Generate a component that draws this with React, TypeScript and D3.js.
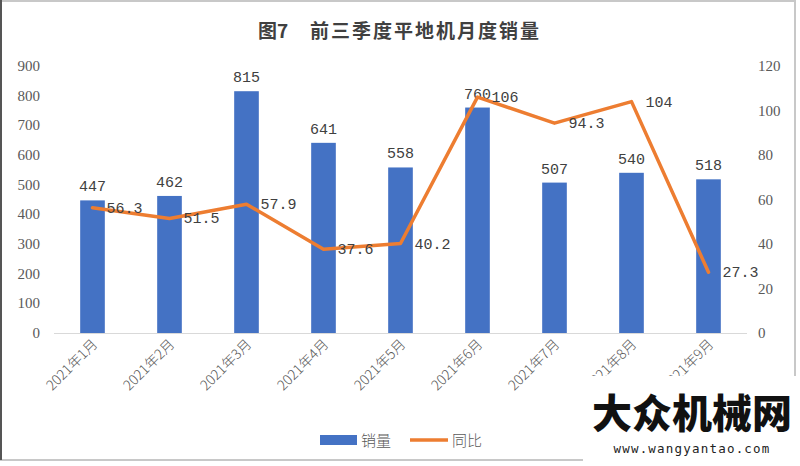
import React from "react";
import * as d3 from "d3";

const categories = ["2021年1月", "2021年2月", "2021年3月", "2021年4月", "2021年5月", "2021年6月", "2021年7月", "2021年8月", "2021年9月"];
const sales = [447, 462, 815, 641, 558, 760, 507, 540, 518];
const yoy = [56.3, 51.5, 57.9, 37.6, 40.2, 106, 94.3, 104, 27.3];
const leftTicks = [0, 100, 200, 300, 400, 500, 600, 700, 800, 900];
const rightTicks = [0, 20, 40, 60, 80, 100, 120];
const titleParts = ["图7", "前三季度平地机月度销量"];
const legendNames = ["销量", "同比"];

const W = 800, H = 466;
const BLUE = "#4472C4", ORANGE = "#ED7D31";
const serif = "'Liberation Serif', 'DejaVu Serif', serif";
const mono = "'Liberation Mono', 'DejaVu Sans Mono', monospace";
const cjk = "'Noto Sans CJK SC', sans-serif";

export default function App() {
  const x = d3.scaleBand<string>().domain(categories).range([54, 747]).paddingInner(0.68).paddingOuter(0.34);
  const yL = d3.scaleLinear().domain([0, 900]).range([333, 66]);
  const yR = d3.scaleLinear().domain([0, 120]).range([333, 66]);
  const cx = (c: string) => (x(c) as number) + x.bandwidth() / 2;
  const line = d3.line<number>().x((_, i) => cx(categories[i])).y((d) => yR(d));

  return (
    <svg width={W} height={H} style={{ position: "absolute", left: 0, top: 0, background: "#fff" }}>
      <rect x={0} y={0} width={W} height={H} fill="#fff" />
      <rect x={1} y={1} width={794} height={459} fill="none" stroke="#c8c8c8" strokeWidth={2} />
      <line x1={1} y1={0} x2={1} y2={460} stroke="#555" strokeWidth={2} />
      <text x={258} y={38} fontFamily={cjk} fontWeight={700} fontSize={19} fill="#404040">{titleParts[0]}</text>
      <text x={310} y={38} fontFamily={cjk} fontWeight={700} fontSize={19} fill="#404040" letterSpacing={2}>{titleParts[1]}</text>

      {leftTicks.map((t) => (
        <text key={"l" + t} x={40} y={yL(t) + 5} textAnchor="end" fontFamily={serif} fontSize={15} fill="#595959">{t}</text>
      ))}
      {rightTicks.map((t) => (
        <text key={"r" + t} x={758} y={yR(t) + 5} textAnchor="start" fontFamily={serif} fontSize={15} fill="#595959">{t}</text>
      ))}

      {categories.map((c, i) => (
        <rect key={c} x={x(c)} y={yL(sales[i])} width={x.bandwidth()} height={yL(0) - yL(sales[i])} fill={BLUE} />
      ))}
      <line x1={54} x2={747} y1={333.5} y2={333.5} stroke="#d9d9d9" strokeWidth={1} />

      {categories.map((c, i) => (
        <text key={"v" + c} x={cx(c)} y={yL(sales[i]) - 9} textAnchor="middle" fontFamily={mono} fontSize={15} fill="#404040">{sales[i]}</text>
      ))}

      <path d={line(yoy) || ""} fill="none" stroke={ORANGE} strokeWidth={3.5} strokeLinejoin="round" strokeLinecap="round" />
      {categories.map((c, i) => (
        <text key={"p" + c} x={cx(c) + 14} y={yR(yoy[i]) + 5} textAnchor="start" fontFamily={mono} fontSize={15} fill="#404040">{yoy[i]}</text>
      ))}

      {categories.map((c) => (
        <text key={"x" + c} transform={`translate(${cx(c) + 6},${345}) rotate(-45)`} textAnchor="end" fontFamily={cjk} fontWeight={300} fontSize={14} fill="#595959">{c}</text>
      ))}

      <rect x={320} y={435} width={37} height={10} fill={BLUE} />
      <text x={361} y={446} fontFamily={cjk} fontWeight={300} fontSize={15} fill="#595959">{legendNames[0]}</text>
      <line x1={410} x2={448} y1={440} y2={440} stroke={ORANGE} strokeWidth={3.5} />
      <text x={452} y={446} fontFamily={cjk} fontWeight={300} fontSize={15} fill="#595959">{legendNames[1]}</text>

      <rect x={583} y={376} width={217} height={90} fill="#fff" />
      <text x={692} y={428} textAnchor="middle" fontFamily={cjk} fontWeight={900} fontSize={40} fill="#111">大众机械网</text>
      <text x={692} y={453} textAnchor="middle" fontFamily={"'DejaVu Sans Mono', monospace"} fontSize={12.5} letterSpacing={1.2} fill="#222">www.wangyantao.com</text>
    </svg>
  );
}
